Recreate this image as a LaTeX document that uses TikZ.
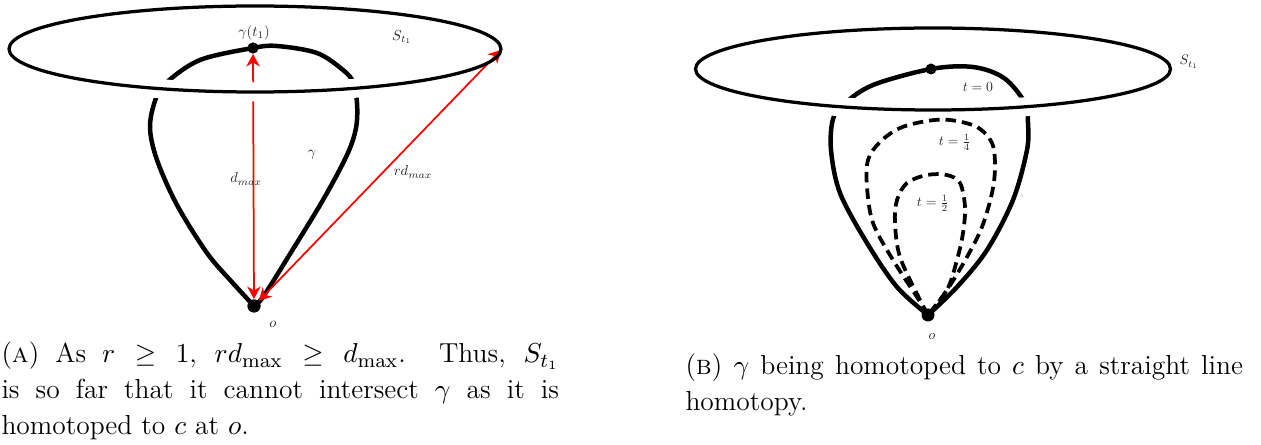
\documentclass[tikz,border=0pt]{standalone}
\usetikzlibrary{arrows.meta}
\tikzset{
  gammacurve/.style={line width=1.8pt, line join=round, line cap=round},
  sphere/.style={line width=1.3pt},
  homot/.style={line width=1.5pt, dash pattern=on 4.2pt off 2.4pt},
  dist/.style={draw=red, line width=0.7pt,
    {Stealth[length=5pt,width=5.4pt,inset=1.6pt]}-{Stealth[length=5pt,width=5.4pt,inset=1.6pt]}},
  bigdot/.style={circle, fill=black, inner sep=0pt, minimum size=5.2pt},
  smalldot/.style={circle, fill=black, inner sep=0pt, minimum size=4.4pt},
  lblA/.style={font=\fontsize{10}{12}\selectfont, scale=0.58, text=black!85, inner sep=0pt},
  lblB/.style={font=\fontsize{10}{12}\selectfont, scale=0.55, text=black!85, inner sep=0pt},
  capt/.style={font=\fontsize{11}{14.4}\selectfont, text width=223pt, align=justify, inner sep=0pt, anchor=base west},
  gapline/.style={draw=white, line width=7.6pt},
}
\begin{document}
\begin{tikzpicture}[x=0.4pt,y=-0.4pt]
\useasboundingbox (0,0) rectangle (1261,445);

% ================= Panel A =================
\coordinate (oAc) at (254,306);
\coordinate (gAc) at (253,48);
\draw[gammacurve] plot[smooth, tension=0.55] coordinates {
  (254,306) (231,281) (207,253) (177,205) (157,160) (150,128) (155,101) (166,83)
  (200,60) (253,48) (277,46) (317,53) (343,70) (353,82) (357,103) (356,128)
  (347,155) (323,200) (290,254) (263,297) (254,306)};
\node[bigdot] (oA) at (oAc) {};
\node[smalldot] (gA) at (gAc) {};
\coordinate (sA) at (501,50);
\draw[dist] (oA) -- (gA);
\draw[dist] (oA) -- (sA);
% front of the sphere passes over gamma and the red line
\begin{scope}
  \clip (100,62) rectangle (410,130);
  \draw[gapline] (255,49) ellipse [x radius=246, y radius=43];
\end{scope}
\draw[sphere] (255,49) ellipse [x radius=246, y radius=43];
\node[bigdot] at (oAc) {};
\node[smalldot] at (gAc) {};
\node[lblA] (lgA) at (254,33) {$\gamma(t_1)$};
\node[lblA] (lSA) at (402,37) {$S_{t_1}$};
\node[lblA] (lgam) at (312,155) {$\gamma$};
\node[lblA] (ldm) at (246,179) {$d_{max}$};
\node[lblA] (lrdm) at (413,172) {$rd_{max}$};
\node[lblA] (loA) at (273,324) {$o$};

\node[capt] (capA) at (1,363) {(\textsc{a}) As $r \geq 1$, $rd_{\max} \geq d_{\max}$. Thus, $S_{t_1}$\linebreak
is so far that it cannot intersect $\gamma$ as it is\linebreak
homotoped to $c$ at $o$.};

% ================= Panel B =================
\coordinate (oBc) at (928,315);
\coordinate (gBc) at (931,69);
\draw[gammacurve] plot[smooth, tension=0.55] coordinates {
  (928,315) (897,287) (867,243) (840,193) (831,150) (833,119) (844,104) (873,85)
  (931,69) (973,67) (1004,78) (1025,103) (1028,123) (1027,150) (1013,200)
  (987,250) (957,287) (928,315)};
\begin{scope}
  \clip (780,82) rectangle (1090,140);
  \draw[gapline] (933,69) ellipse [x radius=237.5, y radius=41];
\end{scope}
\draw[sphere] (933,69) ellipse [x radius=237.5, y radius=41];
\draw[homot] plot[smooth, tension=0.55] coordinates {
  (928,315) (917,297) (893,260) (873,223) (867,187) (868,160) (880,142) (900,128)
  (927,121) (950,120) (977,127) (992,143) (995,167) (992,193) (982,227)
  (967,257) (947,290) (928,315)};
\draw[homot] plot[smooth, tension=0.55] coordinates {
  (928,315) (920,300) (900,257) (895,223) (897,200) (907,183) (927,175)
  (947,175) (960,183) (965,207) (963,233) (957,260) (947,290) (928,315)};
\node[bigdot] (oB) at (oBc) {};
\node[smalldot] (gB) at (gBc) {};
\node[lblB] (lt0) at (978,87) {$t=0$};
\node[lblB] (lt14) at (955,142) {$t=\frac{1}{4}$};
\node[lblB] (lt12) at (933,203) {$t=\frac{1}{2}$};
\node[lblB] (lSB) at (1189,62) {$S_{t_1}$};
\node[font=\fontsize{10}{12}\selectfont, scale=0.22, text=black!60, inner sep=0pt] (lgB) at (1022,197) {$\gamma$};
\node[lblB] (loB) at (932,337) {$o$};

\node[capt] (capB) at (685,375) {(\textsc{b}) $\gamma$ being homotoped to $c$ by a straight line\linebreak
homotopy.};
\end{tikzpicture}
\end{document}
